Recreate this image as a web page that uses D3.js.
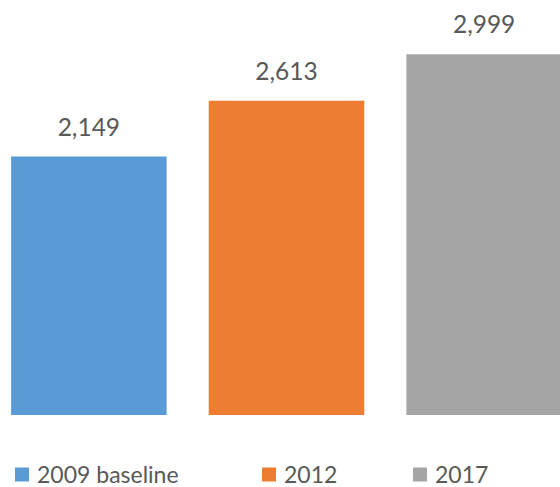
<!DOCTYPE html>
<html>
<head>
<meta charset="utf-8">
<script src="https://cdn.jsdelivr.net/npm/d3@7"></script>
<style>
  html, body { margin: 0; padding: 0; background: #fff; overflow: hidden; }
  svg { display: block; }
  text { font-family: Lato, "Open Sans", sans-serif; fill: #595959; }
</style>
</head>
<body>
<svg id="chart" width="560" height="487"></svg>
<script>
// Series shown as columns
const categories = ["2009 baseline", "2012", "2017"];
const values = [2149, 2613, 2999];
const colors = ["#5B9BD5", "#ED7D31", "#A5A5A5"];
const legendLabels = ["2009 baseline", "2012", "2017"];

const svg = d3.select("#chart");

const x = d3.scaleBand()
  .domain(categories)
  .range([-31, 604])
  .paddingInner(0.213)
  .paddingOuter(0.213);

const y = d3.scaleLinear()
  .domain([0, 3500])
  .range([415, -6]);

const fmt = d3.format(",");

// Columns
svg.append("g")
  .selectAll("rect")
  .data(values)
  .join("rect")
  .attr("x", (d, i) => x(categories[i]))
  .attr("y", d => y(d))
  .attr("width", x.bandwidth())
  .attr("height", d => y(0) - y(d))
  .attr("fill", (d, i) => colors[i]);

// Value labels above columns
svg.append("g")
  .selectAll("text")
  .data(values)
  .join("text")
  .attr("x", (d, i) => x(categories[i]) + x.bandwidth() / 2)
  .attr("y", d => y(d) - 21)
  .attr("text-anchor", "middle")
  .attr("font-size", 24.5)
  .text(d => fmt(d));

// Legend
const legendX = [15, 262, 413];
const legend = svg.append("g")
  .selectAll("g")
  .data(legendLabels)
  .join("g")
  .attr("transform", (d, i) => `translate(${legendX[i]},0)`);

legend.append("rect")
  .attr("x", 0)
  .attr("y", 467.5)
  .attr("width", 14)
  .attr("height", 14)
  .attr("fill", (d, i) => colors[i]);

legend.append("text")
  .attr("x", 22)
  .attr("y", 482.5)
  .attr("font-size", 23)
  .text(d => d);
</script>
</body>
</html>
